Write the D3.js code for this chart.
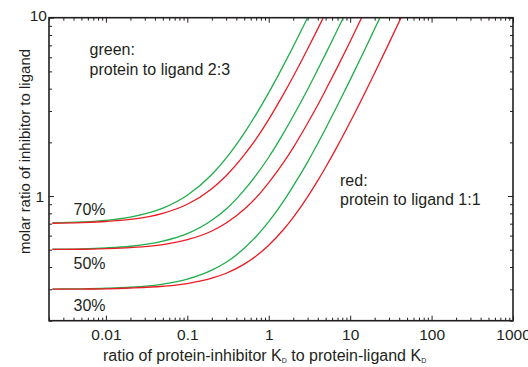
<!DOCTYPE html>
<html><head><meta charset="utf-8">
<script src="https://cdn.jsdelivr.net/npm/d3@7"></script>
<style>
html,body{margin:0;padding:0;background:#fff;}
svg{display:block;}
text{font-family:"Liberation Sans",Arial,sans-serif;fill:#231f20;}
</style></head><body>
<svg id="chart" width="528" height="367"></svg>
<script>
// ratio of protein-inhibitor KD to protein-ligand KD (x values shared by all curves)
const xValues = [0.0022,0.005,0.01,0.02,0.05,0.1,0.2,0.3,0.5,0.7,1,1.5,2,3,4,5,7,10,15,20,30,45];
// molar ratio of inhibitor to ligand
const green70 = [0.707,0.716,0.731,0.762,0.855,1.01,1.32,1.63,2.25,2.87,3.80,5.35,6.90,10.0,13.1];
const red70   = [0.704,0.710,0.720,0.740,0.800,0.899,1.10,1.30,1.70,2.09,2.69,3.69,4.68,6.67,8.66,10.65];
const green50 = [0.503,0.506,0.512,0.523,0.558,0.615,0.731,0.846,1.08,1.31,1.65,2.23,2.81,3.96,5.12,6.27,8.58,12.0];
const red50   = [0.502,0.503,0.507,0.514,0.534,0.569,0.637,0.706,0.843,0.980,1.19,1.53,1.87,2.56,3.24,3.93,5.30,7.36,10.8];
const green30 = [0.301,0.302,0.304,0.308,0.321,0.342,0.384,0.425,0.509,0.593,0.718,0.927,1.14,1.55,1.97,2.39,3.23,4.48,6.57,8.66,12.8];
const red30   = [0.3005,0.301,0.302,0.305,0.312,0.323,0.346,0.369,0.415,0.461,0.530,0.645,0.760,0.990,1.22,1.45,1.91,2.60,3.75,4.90,7.20,10.65];

const xTickValues = [0.01,0.1,1,10,100,1000];
const xTickLabels = ["0.01","0.1","1","10","100","1000"];
const yTickValues = [1,10];
const yTickLabels = ["1","10"];
const percentLabels = ["70%","50%","30%"];

const GREEN = "#1fae4b", RED = "#ec1c24", INK = "#231f20";
const series = [
  {values: green70, color: GREEN},
  {values: red70, color: RED},
  {values: green50, color: GREEN},
  {values: red50, color: RED},
  {values: green30, color: GREEN},
  {values: red30, color: RED}
];

const L = 49, R = 513, T = 17.7, B = 320.7;
const svg = d3.select("#chart");
const x = d3.scaleLog().domain([0.002, 1000]).range([L, R]);
const y = d3.scaleLog().domain([0.2, 10]).range([B, T]);

svg.append("defs").append("clipPath").attr("id","plotclip")
  .append("rect").attr("x",L).attr("y",T).attr("width",R-L).attr("height",B-T);

// minor tick values
const xMinor = [];
for (let e=-3;e<=2;e++) for (let k=2;k<=9;k++){const v=k*Math.pow(10,e); if(v>=0.002&&v<=1000) xMinor.push(v);}
const yMinor = [];
for (let e=-1;e<=0;e++) for (let k=2;k<=9;k++){const v=k*Math.pow(10,e); if(v>=0.2&&v<=10) yMinor.push(v);}

function styleAxis(g){ g.select(".domain").remove(); g.selectAll(".tick line").attr("stroke",INK).attr("stroke-width",1); }

// bottom
svg.append("g").attr("transform",`translate(0,${B})`)
  .call(d3.axisBottom(x).tickValues(xMinor).tickSize(-3).tickFormat("")).call(styleAxis);
svg.append("g").attr("transform",`translate(0,${B})`)
  .call(d3.axisBottom(x).tickValues(xTickValues).tickSizeInner(-5).tickSizeOuter(0).tickPadding(8)
    .tickFormat((d,i)=>xTickLabels[i])).call(styleAxis)
  .selectAll("text").attr("font-size","15.5px").attr("fill",INK);
// top
svg.append("g").attr("transform",`translate(0,${T})`)
  .call(d3.axisTop(x).tickValues(xMinor).tickSize(-3).tickFormat("")).call(styleAxis);
svg.append("g").attr("transform",`translate(0,${T})`)
  .call(d3.axisTop(x).tickValues(xTickValues).tickSize(-5).tickFormat("")).call(styleAxis);
// left
svg.append("g").attr("transform",`translate(${L},0)`)
  .call(d3.axisLeft(y).tickValues(yMinor).tickSize(-3).tickFormat("")).call(styleAxis);
const yl = svg.append("g").attr("transform",`translate(${L},0)`)
  .call(d3.axisLeft(y).tickValues(yTickValues).tickSizeInner(-5).tickSizeOuter(0).tickPadding(5)
    .tickFormat((d,i)=>yTickLabels[i])).call(styleAxis);
yl.selectAll("text").attr("font-size","15.5px").attr("fill",INK);
yl.selectAll(".tick").filter(d=>d===10).select("text").attr("x",-2).attr("dy","0.2em");
// right
svg.append("g").attr("transform",`translate(${R},0)`)
  .call(d3.axisRight(y).tickValues(yMinor).tickSize(-3).tickFormat("")).call(styleAxis);
svg.append("g").attr("transform",`translate(${R},0)`)
  .call(d3.axisRight(y).tickValues(yTickValues).tickSize(-5).tickFormat("")).call(styleAxis);

// curves
const line = d3.line().x(d=>x(d[0])).y(d=>y(d[1])).curve(d3.curveMonotoneX);
const plot = svg.append("g").attr("clip-path","url(#plotclip)");
series.forEach(s=>{
  const pts = s.values.map((v,i)=>[xValues[i], v]);
  plot.append("path").attr("d", line(pts)).attr("fill","none")
    .attr("stroke", s.color).attr("stroke-width",1.3);
});

// frame
svg.append("rect").attr("x",L).attr("y",T).attr("width",R-L).attr("height",B-T)
  .attr("fill","none").attr("stroke",INK).attr("stroke-width",1.6);

// annotations
const fs = "16px";
svg.append("text").attr("x",89.5).attr("y",55).attr("font-size",fs).text("green:");
svg.append("text").attr("x",89.5).attr("y",74.5).attr("font-size",fs).text("protein to ligand 2:3");
svg.append("text").attr("x",340).attr("y",186).attr("font-size",fs).text("red:");
svg.append("text").attr("x",340).attr("y",204.5).attr("font-size",fs).text("protein to ligand 1:1");
const pctY = [215, 268.5, 310.5];
percentLabels.forEach((t,i)=>{
  svg.append("text").attr("x",73.5).attr("y",pctY[i]).attr("font-size",fs).text(t);
});

// axis titles
const xt = svg.append("text").attr("x",103).attr("y",361).attr("font-size",fs);
xt.append("tspan").text("ratio of protein-inhibitor K");
xt.append("tspan").attr("font-size","7px").attr("dy",2).text("D");
xt.append("tspan").attr("dy",-2).text(" to protein-ligand K");
xt.append("tspan").attr("font-size","7px").attr("dy",2).text("D");

svg.append("text").attr("transform","translate(30,151.5) rotate(-90)")
  .attr("text-anchor","middle").attr("font-size","15px").text("molar ratio of inhibitor to ligand");
</script>
</body></html>
